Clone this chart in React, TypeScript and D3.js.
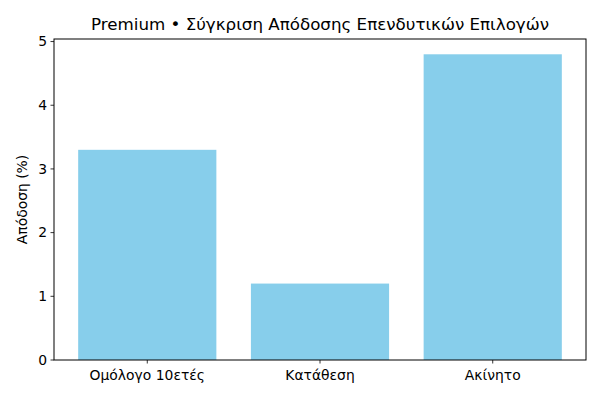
import React from "react";
import * as d3 from "d3";

const categories = ["Ομόλογο 10ετές", "Κατάθεση", "Ακίνητο"];
const values = [3.3, 1.2, 4.8];
const yTicks = [0, 1, 2, 3, 4, 5];
const title = "Premium • Σύγκριση Απόδοσης Επενδυτικών Επιλογών";
const yLabel = "Απόδοση (%)";

export default function App() {
  const W = 600, H = 400;
  const m = { left: 54, right: 14, top: 39, bottom: 40 };
  const x0 = m.left, x1 = W - m.right, y0 = H - m.bottom, y1 = m.top;
  const n = categories.length;
  const barW = 0.8;
  const lo = -barW / 2, hi = n - 1 + barW / 2;
  const pad = (hi - lo) * 0.05;
  const x = d3.scaleLinear().domain([lo - pad, hi + pad]).range([x0, x1]);
  const ymax = (d3.max(values) as number) * 1.05;
  const y = d3.scaleLinear().domain([0, ymax]).range([y0, y1]);
  const font = "DejaVu Sans, sans-serif";
  return (
    <svg width={W} height={H} style={{ position: "absolute", left: 0, top: 0, background: "#fff" }} fontFamily={font}>
      <rect x={0} y={0} width={W} height={H} fill="#fff" />
      {values.map((v, i) => (
        <rect key={i} x={x(i - barW / 2)} width={x(i + barW / 2) - x(i - barW / 2)} y={y(v)} height={y(0) - y(v)} fill="#87CEEB" />
      ))}
      <rect x={x0} y={y1} width={x1 - x0} height={y0 - y1} fill="none" stroke="#000" strokeWidth={1} />
      {yTicks.map((t) => (
        <g key={t}>
          <line x1={x0 - 3.5} x2={x0} y1={y(t)} y2={y(t)} stroke="#000" strokeWidth={0.8} />
          <text x={x0 - 7} y={y(t)} dy="0.35em" textAnchor="end" fontSize={13.9} fill="#000">{t}</text>
        </g>
      ))}
      {categories.map((c, i) => (
        <g key={c}>
          <line x1={x(i)} x2={x(i)} y1={y0} y2={y0 + 3.5} stroke="#000" strokeWidth={0.8} />
          <text x={x(i)} y={y0 + 9} dy="0.8em" textAnchor="middle" fontSize={13.9} fill="#000">{c}</text>
        </g>
      ))}
      <text transform={`translate(${27},${(y0 + y1) / 2}) rotate(-90)`} textAnchor="middle" fontSize={13.9} fill="#000">{yLabel}</text>
      <text x={(x0 + x1) / 2} y={y1 - 9} textAnchor="middle" fontSize={16.7} fill="#000">{title}</text>
    </svg>
  );
}
